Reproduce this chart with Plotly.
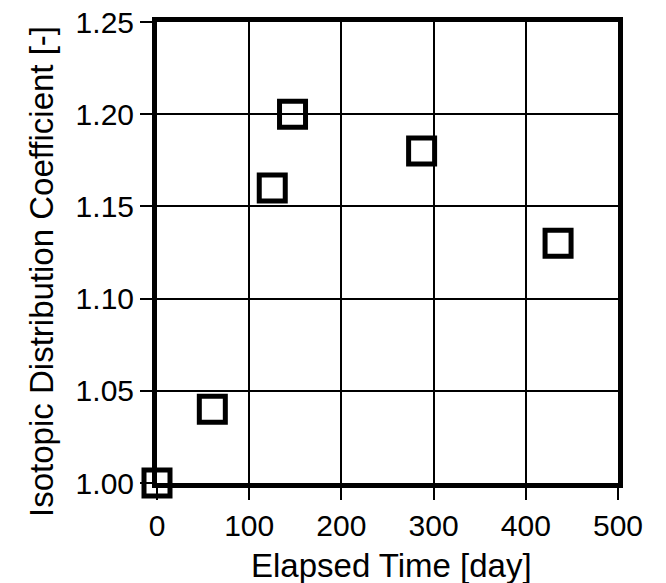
import plotly.graph_objects as go

elapsed_days = [0, 60, 125, 147, 287, 435]
coefficient = [1.00, 1.04, 1.16, 1.20, 1.18, 1.13]
x_ticks = [0, 100, 200, 300, 400, 500]
y_ticks = [1.00, 1.05, 1.10, 1.15, 1.20, 1.25]
y_tick_labels = ["1.00", "1.05", "1.10", "1.15", "1.20", "1.25"]
x_title = "Elapsed Time [day]"
y_title = "Isotopic Distribution Coefficient [-]"

FONT = "Liberation Sans, Arial, sans-serif"

fig = go.Figure()
fig.add_trace(go.Scatter(
    x=elapsed_days, y=coefficient, mode="markers",
    marker=dict(symbol="square-open", size=26, color="black",
                line=dict(width=5, color="black")),
    cliponaxis=False, showlegend=False,
))

axis_common = dict(
    showline=True, linewidth=5, linecolor="black", mirror=True,
    showgrid=True, gridcolor="black", gridwidth=2,
    ticks="outside", ticklen=12, tickwidth=2, tickcolor="black",
    zeroline=False, ticklabeloverflow="allow",
    tickfont=dict(family=FONT, size=30, color="black"),
)

fig.update_xaxes(range=[0, 500], tickvals=x_ticks, ticktext=[str(v) for v in x_ticks],
                 **axis_common)
fig.update_yaxes(range=[1.0, 1.25], tickvals=y_ticks, ticktext=y_tick_labels,
                 **axis_common)

fig.add_annotation(text=x_title, xref="paper", yref="paper", x=0.509, y=-0.178,
                   xanchor="center", yanchor="middle", showarrow=False,
                   font=dict(family=FONT, size=33, color="black"))
fig.add_annotation(text=y_title, xref="paper", yref="paper", x=-0.2495, y=0.46,
                   xanchor="center", yanchor="middle", showarrow=False, textangle=-90,
                   font=dict(family=FONT, size=33, color="black"))

fig.update_layout(
    width=666, height=583,
    margin=dict(l=149, r=56, t=14, b=108, autoexpand=False),
    plot_bgcolor="white", paper_bgcolor="white",
    font=dict(family=FONT, color="black"),
)

fig.write_html("out.html")
